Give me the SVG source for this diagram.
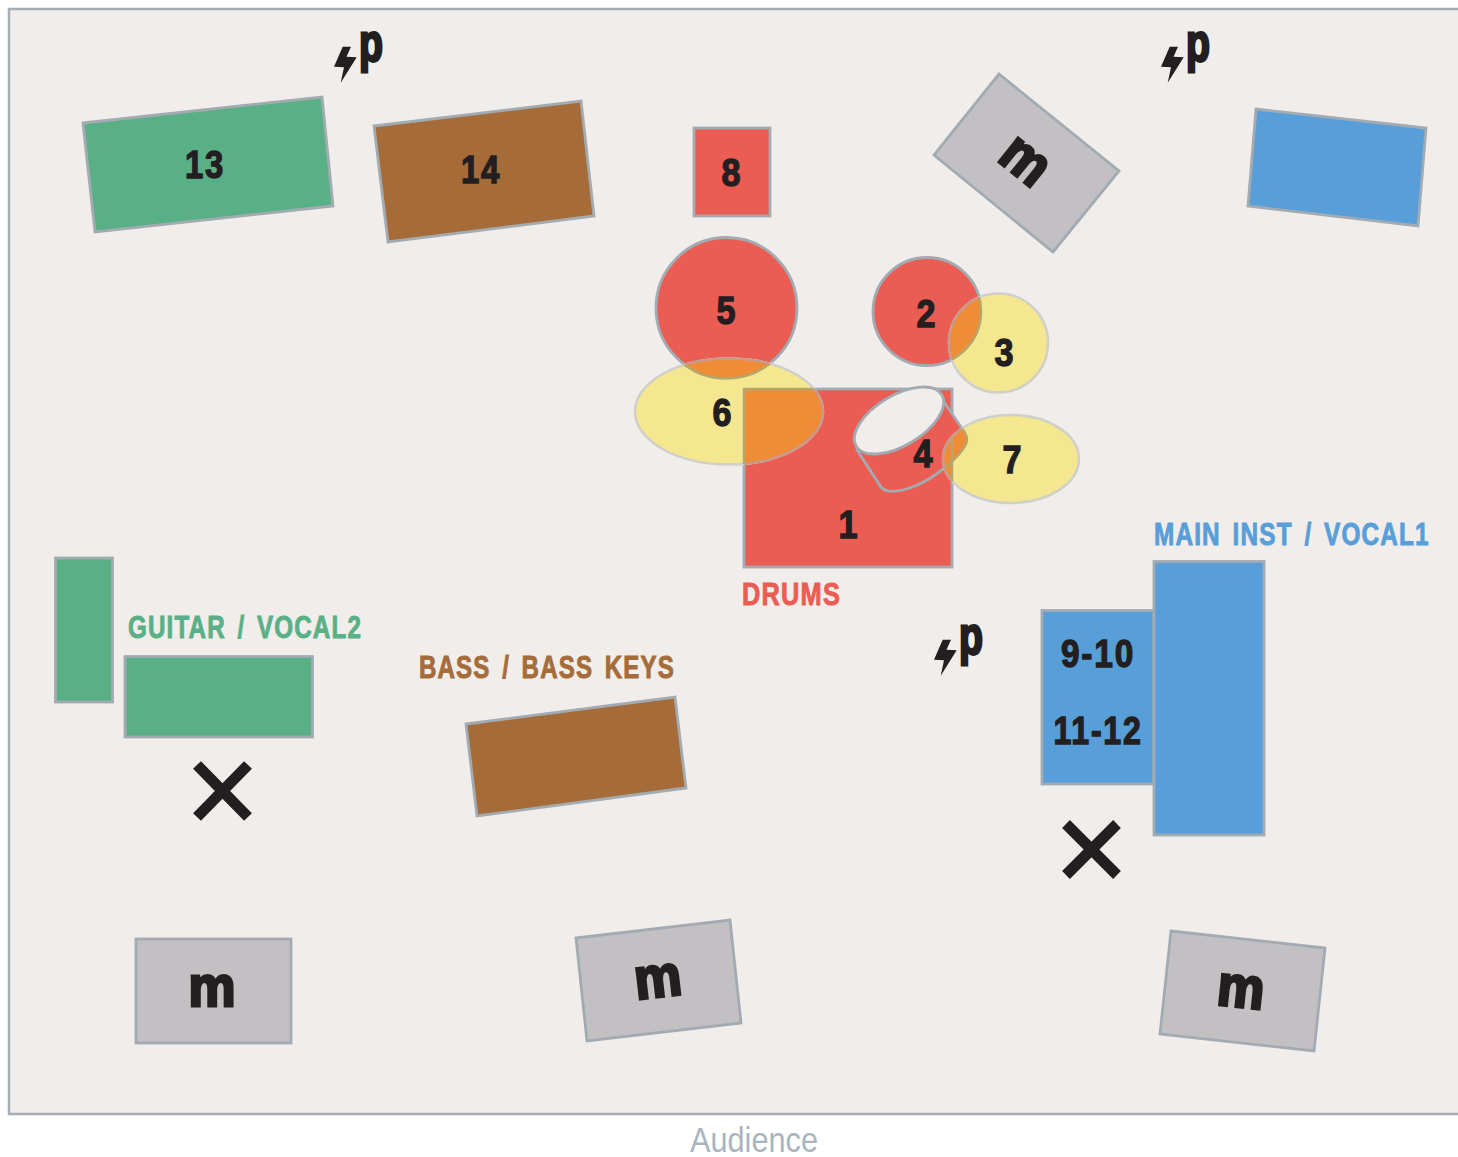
<svg xmlns="http://www.w3.org/2000/svg" width="1458" height="1157" viewBox="0 0 1458 1157">
<style>
.s{stroke:#a3abb2;stroke-width:2.800}
.red{fill:#eb5c53}.green{fill:#5ab086}.brown{fill:#a56c39}.blue{fill:#589ed9}.grey{fill:#c2c0c3}
.yel{fill:#f4e78f;stroke:#cfd0ca;stroke-width:2.500}
.or{fill:#f08c35}
.ol{fill:none;stroke:#b3a76c;stroke-width:2.500}
.rim{fill:none;stroke:#c99a8c;stroke-width:2.500}
text{font-family:"Liberation Sans",Arial,sans-serif;font-weight:700}
.n{font-size:38px;fill:#231f20;stroke:#231f20;stroke-width:1.300;text-anchor:middle}
.t{letter-spacing:2px}
.m{font-size:58px;fill:#231f20;stroke:#231f20;stroke-width:3;text-anchor:middle}
.p{font-size:54px;fill:#231f20;stroke:#231f20;stroke-width:2.800;text-anchor:middle}
.l{font-size:32px;stroke-width:.9;letter-spacing:1.500px;word-spacing:5px}
.x{stroke:#231f20;stroke-width:11;fill:none}
</style>
<defs>
<g id="power"><polygon points="342.7,46.7 351,46.7 346.5,56.7 356.7,57.300 340.7,82.700 344,67.300 334,66.700" fill="#231f20"/><text class="p" x="371" y="61" textLength="24" lengthAdjust="spacingAndGlyphs">p</text></g>
<path id="drumbody" d="M944,402 L963,430 Q969,438 966,444 C960,457 935,478 915,486 C905,490 895,492 888,491 Q882,490 879,484 L857,450 Z"/>
<clipPath id="c6"><ellipse cx="729" cy="411.500" rx="94" ry="53"/></clipPath>
<clipPath id="c3"><circle cx="998.500" cy="343" r="49.500"/></clipPath>
<clipPath id="c7"><ellipse cx="1011" cy="459" rx="68" ry="44"/></clipPath>
<clipPath id="c5"><circle cx="726.500" cy="308" r="70.500"/></clipPath>
<clipPath id="c2"><circle cx="927" cy="311.500" r="54"/></clipPath>
<clipPath id="c1"><rect x="744" y="389" width="208" height="178"/></clipPath>
<clipPath id="c4"><use href="#drumbody"/></clipPath>
</defs>
<rect id="stage" x="9" y="9" width="1460" height="1105" fill="#f0edea" stroke="#a7adb2" stroke-width="2.500"/>

<g id="node-13"><polygon class="green s" points="83,123 322,97 333,206 95,232"/><text class="n t" x="205" y="178" textLength="40" lengthAdjust="spacingAndGlyphs">13</text></g>
<g id="node-14"><polygon class="brown s" points="374,126 581,101 594,216 388,242"/><text class="n t" x="481" y="183" textLength="40" lengthAdjust="spacingAndGlyphs">14</text></g>
<g id="node-8"><rect class="red s" x="694" y="128" width="76" height="88"/><text class="n" x="731" y="186" textLength="19" lengthAdjust="spacingAndGlyphs">8</text></g>
<g id="monitor-top"><polygon class="grey s" points="999,74 1119,171 1053,252 934,155"/><text class="m" transform="translate(1025,161) rotate(39)" y="17" textLength="47" lengthAdjust="spacingAndGlyphs">m</text></g>
<g id="blue-top"><polygon class="blue s" points="1256,109 1426,128 1418,226 1248,206"/></g>
<g id="power-1"><use href="#power"/></g>
<g id="power-2"><use href="#power" x="827"/></g>
<g id="power-3"><use href="#power" x="600" y="593"/></g>

<g id="node-1"><rect class="red s" x="744" y="389" width="208" height="178"/><text class="n" x="848" y="538" textLength="19" lengthAdjust="spacingAndGlyphs">1</text></g>
<g id="node-5"><circle class="red s" cx="726.500" cy="308" r="70.500"/><text class="n" x="726" y="324" textLength="19" lengthAdjust="spacingAndGlyphs">5</text></g>
<g id="node-2"><circle class="red s" cx="927" cy="311.500" r="54"/><text class="n" x="926" y="327" textLength="19" lengthAdjust="spacingAndGlyphs">2</text></g>
<g id="node-3"><circle class="yel" cx="998.500" cy="343" r="49.500"/><text class="n" x="1004" y="366" textLength="19" lengthAdjust="spacingAndGlyphs">3</text></g>
<g id="node-6"><ellipse class="yel" cx="729" cy="411.500" rx="94" ry="53"/><text class="n" x="722" y="426" textLength="19" lengthAdjust="spacingAndGlyphs">6</text></g>
<g id="node-4"><use href="#drumbody" class="red s"/></g>
<g id="node-7"><ellipse class="yel" cx="1011" cy="459" rx="68" ry="44"/><text class="n" x="1012" y="473" textLength="19" lengthAdjust="spacingAndGlyphs">7</text></g>
<g id="overlaps">
<g clip-path="url(#c6)"><circle class="or" cx="726.500" cy="308" r="70.500"/><rect class="or" x="744" y="389" width="208" height="178"/><circle class="ol" cx="726.500" cy="308" r="70.500"/><rect class="ol" x="744" y="389" width="208" height="178"/></g>
<g clip-path="url(#c3)"><circle class="or" cx="927" cy="311.500" r="54"/><circle class="ol" cx="927" cy="311.500" r="54"/></g>
<g clip-path="url(#c7)"><rect class="or" x="744" y="389" width="208" height="178"/><use href="#drumbody" class="or"/><use href="#drumbody" class="ol"/><rect class="ol" x="744" y="389" width="208" height="178"/></g>
<g clip-path="url(#c5)"><ellipse class="rim" cx="729" cy="411.500" rx="94" ry="53"/></g>
<g clip-path="url(#c1)"><ellipse class="rim" cx="729" cy="411.500" rx="94" ry="53"/></g>
<g clip-path="url(#c2)"><circle class="rim" cx="998.500" cy="343" r="49.500"/></g>
<g clip-path="url(#c1)"><ellipse class="rim" cx="1011" cy="459" rx="68" ry="44"/></g>
<g clip-path="url(#c4)"><ellipse class="rim" cx="1011" cy="459" rx="68" ry="44"/></g>
</g>
<g id="drum-top"><ellipse cx="899" cy="420.500" rx="50" ry="25" transform="rotate(-31 899 420.500)" fill="#f0edea" stroke="#a3abb2" stroke-width="2.800"/><text class="n" x="923" y="467" textLength="19" lengthAdjust="spacingAndGlyphs">4</text></g>
<text id="label-drums" class="l" x="742" y="605" textLength="99" lengthAdjust="spacingAndGlyphs" fill="#eb5c53" stroke="#eb5c53">DRUMS</text>

<g id="guitar-left"><rect class="green s" x="55.500" y="558" width="57" height="144"/></g>
<g id="guitar-amp"><rect class="green s" x="125" y="656.500" width="187.500" height="80.500"/></g>
<text id="label-guitar" class="l" x="128" y="638" textLength="234" lengthAdjust="spacingAndGlyphs" fill="#5ab086" stroke="#5ab086">GUITAR / VOCAL2</text>
<path id="x-left" class="x" d="M197,765 L248,817 M248,765 L197,817"/>

<g id="bass"><polygon class="brown s" points="466,724 675,697 686,788 477,816"/></g>
<text id="label-bass" class="l" x="419" y="678" textLength="256" lengthAdjust="spacingAndGlyphs" fill="#a56c39" stroke="#a56c39">BASS / BASS KEYS</text>

<g id="node-9-12"><rect class="blue s" x="1042" y="610.500" width="112" height="173.500"/><text class="n t" x="1098" y="667" textLength="74" lengthAdjust="spacingAndGlyphs">9-10</text><text class="n t" x="1098" y="744" textLength="89" lengthAdjust="spacingAndGlyphs">11-12</text></g>
<g id="main-inst"><rect class="blue s" x="1154" y="561.500" width="110" height="273.500"/></g>
<text id="label-main" class="l" transform="translate(1154 545) scale(.72 1)" textLength="383" lengthAdjust="spacingAndGlyphs" fill="#589ed9" stroke="#589ed9">MAIN INST / VOCAL1</text>
<path id="x-right" class="x" d="M1066,824 L1117,875 M1117,824 L1066,875"/>

<g id="monitor-1"><rect class="grey s" x="136" y="939" width="155" height="104"/><text class="m" x="212" y="1006" textLength="47" lengthAdjust="spacingAndGlyphs">m</text></g>
<g id="monitor-2"><polygon class="grey s" points="576,938 730,920 741,1023 587,1041"/><text class="m" transform="translate(658,980) rotate(-6.500)" y="17" textLength="47" lengthAdjust="spacingAndGlyphs">m</text></g>
<g id="monitor-3"><polygon class="grey s" points="1171,931 1325,948 1314,1051 1160,1034"/><text class="m" transform="translate(1241,990) rotate(6)" y="17" textLength="47" lengthAdjust="spacingAndGlyphs">m</text></g>
<text id="audience" x="690" y="1152" textLength="128" lengthAdjust="spacingAndGlyphs" font-size="35" style="font-weight:400" fill="#a9b5be">Audience</text>
</svg>
